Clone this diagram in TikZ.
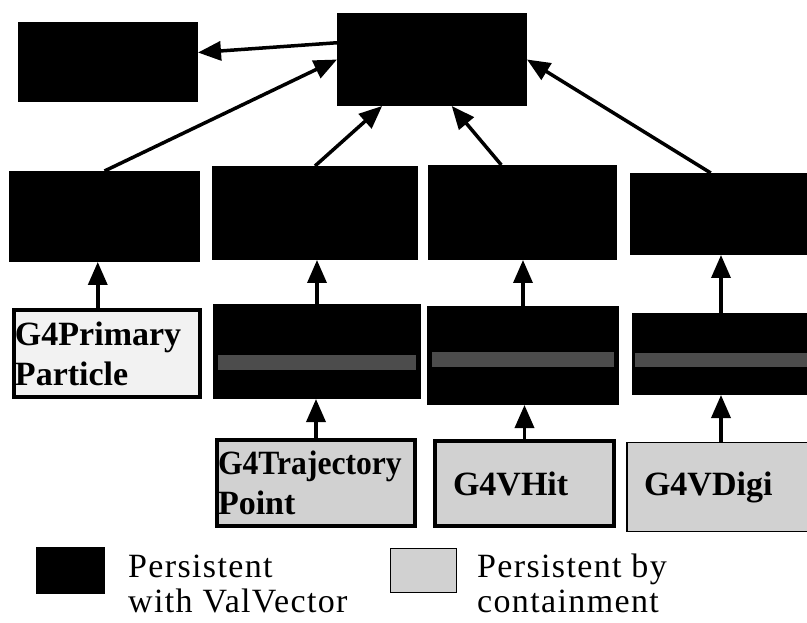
\documentclass[tikz,border=0pt]{standalone}
\usepackage{fontspec}
\usepackage{graphicx}
\setmainfont{Liberation Serif}
\usetikzlibrary{arrows.meta,calc}
\begin{document}
\begin{tikzpicture}[x=1pt,y=-1pt,
  darkbox/.style={rectangle,fill=black,draw=none,inner sep=0pt,outer sep=0pt},
  lightbox/.style={rectangle,fill=black!18,draw=black,line width=4pt,inner ysep=0pt,outer sep=0pt,
    font=\fontsize{34}{40}\selectfont\bfseries,align=left},
  thinbox/.style={lightbox,line width=1.2pt},
  arr/.style={line width=3.5pt,-{Triangle[length=23pt,width=19pt]}},
  stripe/.style={fill=black!70},
  legtext/.style={inner sep=0pt,anchor=base west,
    font=\fontsize{34}{35}\selectfont\addfontfeature{LetterSpace=4}}]
\useasboundingbox (0,0) rectangle (807,623);

% top rows (persistent with ValVector)
\node[darkbox,minimum width=180pt,minimum height=80pt] (A) at (108,62) {};
\node[darkbox,minimum width=190pt,minimum height=93pt] (B) at (432,59.5) {};
\node[darkbox,minimum width=191pt,minimum height=91pt] (C1) at (104.5,216.5) {};
\node[darkbox,minimum width=206pt,minimum height=94pt] (C2) at (315,213) {};
\node[darkbox,minimum width=189pt,minimum height=95pt] (C3) at (522.5,212.5) {};
\node[darkbox,minimum width=182pt,minimum height=82pt] (C4) at (721,214) {};

% third row
\node[lightbox,fill=black!5,minimum width=186pt,minimum height=87pt,text width=184pt,inner xsep=1pt] (D1) at (107,353.5) {G4Primary\\Particle};
\node[darkbox,minimum width=208pt,minimum height=95pt] (D2) at (317,351.5) {};
\node[darkbox,minimum width=192pt,minimum height=99pt] (D3) at (523,355.5) {};
\node[darkbox,minimum width=178pt,minimum height=82pt] (D4) at (721,354) {};
\fill[stripe] ($(D2.west)+(5,3.5)$) rectangle ($(D2.east)+(-5,18.5)$);
\fill[stripe] ($(D3.west)+(5,-3.5)$) rectangle ($(D3.east)+(-5,11.5)$);
\fill[stripe] ($(D4.west)+(3,-1)$) rectangle ($(D4.east)+(-3,13)$);

% bottom row
\node[lightbox,minimum width=198pt,minimum height=86pt,text width=196pt,inner xsep=1pt] (E2) at (316,483) {\scalebox{0.93}[1]{G4Trajectory}\\Point};
\node[lightbox,minimum width=179pt,minimum height=85pt,text width=143pt,inner xsep=18pt] (E3) at (524.5,483.5) {G4VHit};
\node[thinbox,minimum width=188pt,minimum height=89pt,text width=154pt,inner xsep=17pt] (E4) at (721,487) {G4VDigi};

% arrows
\draw[arr] (B.170) -- (A.6);
\draw[arr] (C1.north) -- (B.west);
\draw[arr] (C2.north) -- (B.223);
\draw[arr] (C3.114) -- (B.293);
\draw[arr] (C4.104) -- (B.east);
\draw[arr] (D1.102) -- (D1.102 |- C1.south);
\draw[arr] (D2.north) -- (D2.north |- C2.south);
\draw[arr] (D3.north) -- (D3.north |- C3.south);
\draw[arr] (D4.north) -- (D4.north |- C4.south);
\draw[arr] (E2.north) -- (E2.north |- D2.south);
\draw[arr] (E3.north) -- (E3.north |- D3.south);
\draw[arr] (E4.north) -- (E4.north |- D4.south);

% legend
\node[darkbox,minimum width=69pt,minimum height=47pt] (LD) at (70.5,570.5) {};
\node[thinbox,minimum width=66pt,minimum height=44pt] (LL) at (423.5,570.5) {};
\node[legtext] (L1a) at (128,577) {Persistent};
\node[legtext] (L1b) at (128,612) {with ValVector};
\node[legtext] (L2a) at (477,577) {Persistent by};
\node[legtext] (L2b) at (477,612) {containment};
\end{tikzpicture}
\end{document}
